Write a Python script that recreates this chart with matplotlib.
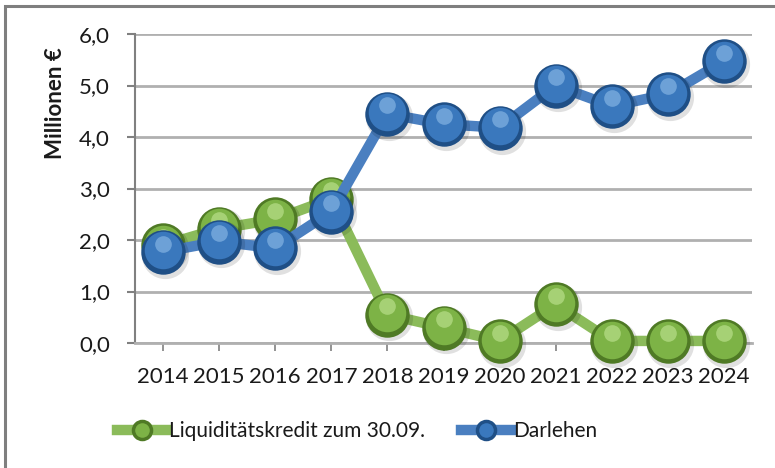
import matplotlib
matplotlib.use("Agg")
import matplotlib.pyplot as plt
import matplotlib.transforms as mtransforms
from matplotlib.patches import Rectangle
from matplotlib.ticker import FixedLocator, FuncFormatter
from matplotlib.lines import Line2D

years = ["2014", "2015", "2016", "2017", "2018", "2019", "2020", "2021", "2022", "2023", "2024"]
liquiditaet = [1.90, 2.22, 2.40, 2.80, 0.55, 0.30, 0.04, 0.75, 0.04, 0.04, 0.04]
darlehen = [1.77, 1.97, 1.84, 2.55, 4.45, 4.25, 4.18, 5.00, 4.60, 4.83, 5.47]
y_ticks = [0, 1, 2, 3, 4, 5, 6]
series_names = ["Liquiditätskredit zum 30.09.", "Darlehen"]

W, H = 775, 468
fig = plt.figure(figsize=(W / 100, H / 100), dpi=100)
font = "Lato"
plt.rcParams["font.family"] = [font, "DejaVu Sans"]

# frame (left and top edges visible)
fig.patches.append(Rectangle((5 / W, -0.1), 2.0, (H - 6) / H + 0.1, transform=fig.transFigure,
                             fill=False, edgecolor="#7f7f7f", linewidth=2.2, zorder=0))

ax = fig.add_axes([135 / W, (H - 343) / H, (752 - 135) / W, (343 - 34) / H])
x = list(range(len(years)))

green_line = "#8bbb5a"
green_dark = "#4f7a25"
green_face = "#7db346"
green_hi = "#b5dc86"
blue_line = "#4a7fc0"
blue_dark = "#1f4f86"
blue_face = "#3a78bd"
blue_hi = "#7fb0e0"


def shifted(dx, dy):
    return ax.transData + mtransforms.ScaledTranslation(dx / 72, dy / 72, fig.dpi_scale_trans)


def draw_series(vals, lc, dark, face, hi, z):
    ax.plot(x, vals, color=lc, linewidth=7.5, solid_capstyle="butt", zorder=z, clip_on=False)
    ax.plot(x, vals, linestyle="none", marker="o", markersize=34, markerfacecolor="#000000",
            markeredgecolor="none", alpha=0.12, zorder=z + 0.1, clip_on=False,
            transform=shifted(1.5, -2))
    ax.plot(x, vals, linestyle="none", marker="o", markersize=32, markerfacecolor=dark,
            markeredgecolor="none", zorder=z + 0.2, clip_on=False)
    ax.plot(x, vals, linestyle="none", marker="o", markersize=27, markerfacecolor=face,
            markeredgecolor="none", zorder=z + 0.3, clip_on=False, transform=shifted(0, 1))
    ax.plot(x, vals, linestyle="none", marker="o", markersize=12, markerfacecolor=hi,
            markeredgecolor="none", alpha=0.75, zorder=z + 0.4, clip_on=False, transform=shifted(0, 6))


draw_series(liquiditaet, green_line, green_dark, green_face, green_hi, 3)
draw_series(darlehen, blue_line, blue_dark, blue_face, blue_hi, 4)

ax.set_xlim(-0.5, len(years) - 0.5)
ax.set_ylim(0, 6)
ax.yaxis.set_major_locator(FixedLocator(y_ticks))
ax.yaxis.set_major_formatter(FuncFormatter(lambda v, p: f"{v:.1f}".replace(".", ",")))
ax.set_xticks(x)
ax.set_xticklabels(years)
ax.grid(axis="y", color="#b0b0b0", linewidth=2.0, zorder=0)
ax.set_axisbelow(True)
for s in ["top", "right"]:
    ax.spines[s].set_visible(False)
ax.spines["left"].set_color("#808080")
ax.spines["left"].set_linewidth(1.5)
ax.spines["bottom"].set_color("#b0b0b0")
ax.spines["bottom"].set_linewidth(2.0)
ax.tick_params(axis="y", length=6, width=1.5, color="#808080", labelsize=16, pad=12, labelcolor="#1a1a1a")
ax.tick_params(axis="x", length=6, width=1.2, color="#808080", labelsize=16, pad=11, labelcolor="#1a1a1a")
ax.set_ylabel("Millionen €", fontsize=16, fontweight="bold", color="#1a1a1a")
ax.yaxis.set_label_coords(-0.112, 0.775)

handles = [
    Line2D([0], [0], color=green_line, linewidth=7.5, marker="o", markersize=13,
           markerfacecolor=green_face, markeredgecolor=green_dark, markeredgewidth=2.5),
    Line2D([0], [0], color=blue_line, linewidth=7.5, marker="o", markersize=13,
           markerfacecolor=blue_face, markeredgecolor=blue_dark, markeredgewidth=2.5),
]
fig.legend(handles, series_names, loc="center", bbox_to_anchor=(357 / W, 1 - 431 / H), ncol=2,
           frameon=False, fontsize=15, handlelength=2.4, handletextpad=0.1, columnspacing=1.7,
           labelcolor="#1a1a1a", borderpad=0)

fig.savefig("out.png", dpi=100)
